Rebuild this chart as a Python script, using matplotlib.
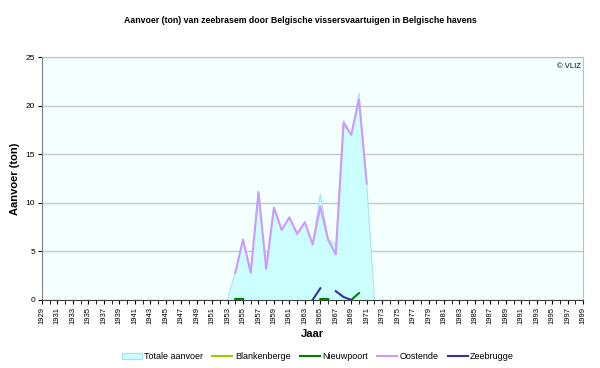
import matplotlib
matplotlib.use("Agg")
import matplotlib.pyplot as plt
from matplotlib.patches import Patch
from matplotlib.lines import Line2D
import numpy as np

nan = np.nan
jaren = list(range(1929, 2000))

# waarden per haven (ton), alleen de jaren met data
oostende = {1954: 2.8, 1955: 6.2, 1956: 2.8, 1957: 11.1, 1958: 3.2, 1959: 9.5,
            1960: 7.2, 1961: 8.5, 1962: 6.8, 1963: 8.0, 1964: 5.7, 1965: 9.6,
            1966: 6.2, 1967: 4.7, 1968: 18.2, 1969: 17.0, 1970: 20.6, 1971: 12.0}
nieuwpoort = {1954: 0.1, 1955: 0.1, 1965: 0.1, 1966: 0.1, 1969: 0.0, 1970: 0.7}
zeebrugge = {1964: 0.0, 1965: 1.2, 1967: 0.9, 1968: 0.3, 1969: 0.0}
blankenberge = {}
totaal = {1953: 0.0, 1954: 2.9, 1955: 6.3, 1956: 2.8, 1957: 11.1, 1958: 3.2,
          1959: 9.5, 1960: 7.2, 1961: 8.5, 1962: 6.8, 1963: 8.0, 1964: 5.7,
          1965: 10.9, 1966: 6.3, 1967: 5.6, 1968: 18.5, 1969: 17.0, 1970: 21.3,
          1971: 12.0, 1972: 0.0}


def reeks(d):
    return np.array([d.get(j, nan) for j in jaren])


plt.rcParams["font.family"] = ["Liberation Sans", "DejaVu Sans"]

fig = plt.figure(figsize=(6, 3.68), dpi=100)
ax = fig.add_axes([0.07, 0.185, 0.902, 0.66])
ax.set_facecolor("#f4ffff")

x = np.array(jaren)
tot = reeks(totaal)
ax.fill_between(x, np.nan_to_num(tot), where=~np.isnan(tot),
                color="#ccffff", edgecolor="none", zorder=2)
ax.plot(x, tot, color="#aee0f0", lw=0.8, zorder=2)
ax.plot(x, reeks(blankenberge), color="#99cc00", lw=1.5, zorder=3)
ax.plot(x, reeks(nieuwpoort), color="#008000", lw=1.5, zorder=3)
ax.plot(x, reeks(oostende), color="#cc99ff", lw=1.5, zorder=3)
ax.plot(x, reeks(zeebrugge), color="#333399", lw=1.5, zorder=3)

ax.set_xlim(1929, 1999)
ax.set_ylim(0, 25)
ax.set_yticks([0, 5, 10, 15, 20, 25])
ax.set_xticks(range(1929, 2000, 2))
ax.set_xticks(range(1929, 2000), minor=True)
ax.tick_params(axis="x", labelsize=5.5, labelrotation=90, length=3, pad=2)
ax.tick_params(axis="x", which="minor", length=3)
ax.tick_params(axis="y", labelsize=6, length=3, pad=2)
ax.grid(axis="y", color="#c8c8c8", lw=1, zorder=1)
for s in ["top", "right"]:
    ax.spines[s].set_color("#c0c0c0")
ax.spines["left"].set_color("#808080")
ax.spines["bottom"].set_color("#404040")

ax.text(0.995, 0.975, "© VLIZ", transform=ax.transAxes, ha="right", va="top", fontsize=5.5)
fig.text(0.5, 0.945, "Aanvoer (ton) van zeebrasem door Belgische vissersvaartuigen in Belgische havens",
         ha="center", va="center", fontsize=6.3, fontweight="bold")
ax.set_ylabel("Aanvoer (ton)", fontsize=8, fontweight="bold", labelpad=4)
fig.text(0.52, 0.092, "Jaar", ha="center", va="center", fontsize=8, fontweight="bold")

handles = [Patch(facecolor="#ccffff", edgecolor="#aee0f0"),
           Line2D([], [], color="#99cc00", lw=1.5),
           Line2D([], [], color="#008000", lw=1.5),
           Line2D([], [], color="#cc99ff", lw=1.5),
           Line2D([], [], color="#333399", lw=1.5)]
fig.legend(handles, ["Totale aanvoer", "Blankenberge", "Nieuwpoort", "Oostende", "Zeebrugge"],
           loc="center", bbox_to_anchor=(0.53, 0.03), ncol=5, frameon=False, fontsize=6.5,
           handlelength=2.2, handletextpad=0.3, columnspacing=1.0)

fig.savefig("out.png", dpi=100)
